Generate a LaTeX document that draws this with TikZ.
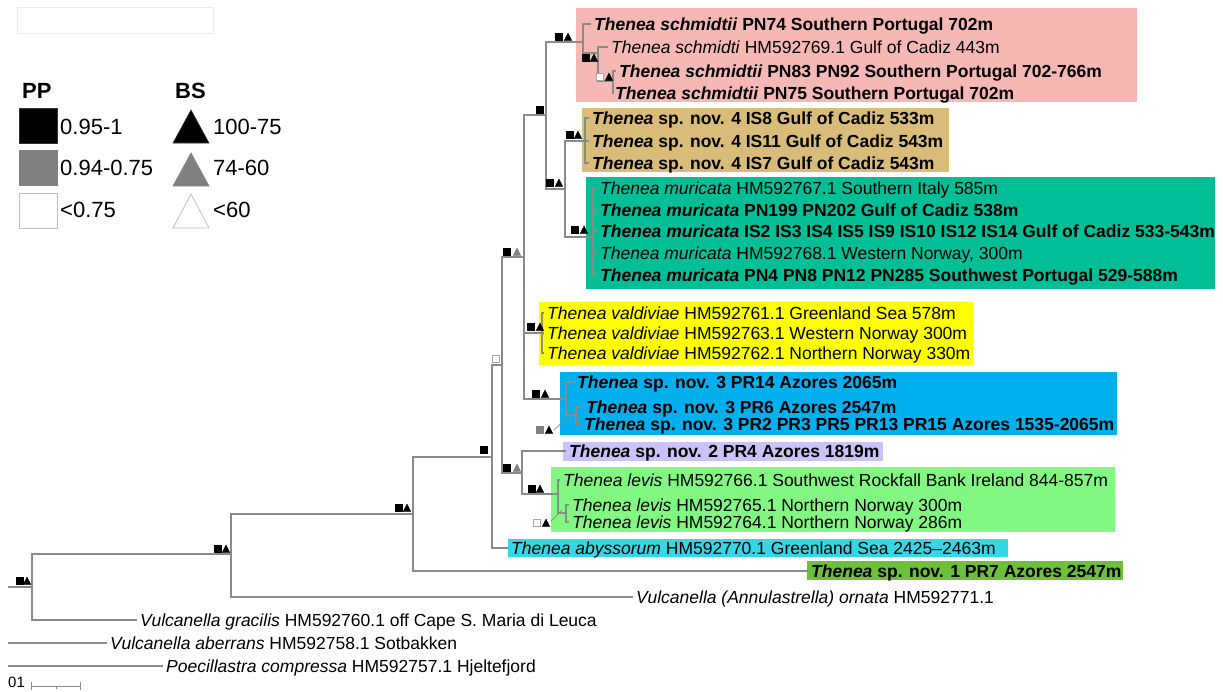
\documentclass[tikz,border=0pt]{standalone}
\usepackage{fontspec}
\setmainfont{Liberation Sans}
\usetikzlibrary{backgrounds}
\definecolor{brgray}{RGB}{138,138,138}
\definecolor{cpink}{RGB}{245,184,180}
\definecolor{ctan}{RGB}{217,188,122}
\definecolor{cteal}{RGB}{0,190,150}
\definecolor{cyell}{RGB}{255,255,0}
\definecolor{cblue}{RGB}{0,176,238}
\definecolor{clav}{RGB}{204,194,250}
\definecolor{clgreen}{RGB}{130,248,130}
\definecolor{ccyan}{RGB}{54,214,228}
\definecolor{cgreen}{RGB}{108,192,60}
\definecolor{symgray}{RGB}{128,128,128}
\newcommand{\suppsq}[2]{\filldraw[#1] (#2) ++(-3.5,-3.5) rectangle ++(7,7);}
\newcommand{\supptri}[2]{\filldraw[#1] (#2) ++(-3.8,3.5) -- ++(7.6,0) -- ++(-3.8,-7.5) -- cycle;}
\begin{document}
\begin{tikzpicture}[x=1pt,y=-1pt,
  br/.style={draw=brgray, line width=1.2pt},
  lf/.style={draw=brgray, line width=1.2pt, shorten >=3pt},
  leaf/.style={anchor=west, inner sep=0pt, text height=12.6pt, text depth=0pt, font=\fontsize{17.5}{21}\selectfont},
  legtxt/.style={anchor=west, inner sep=0pt, text height=15.8pt, text depth=0pt, font=\fontsize{22}{26}\selectfont},
  leghead/.style={anchor=west, inner sep=0pt, text height=16pt, text depth=0pt, font=\fontsize{22}{26}\selectfont\bfseries},
  sblack/.style={fill=black, draw=black, line width=0.3pt},
  sgray/.style={fill=symgray, draw=symgray, line width=0.3pt},
  swhite/.style={fill=white, draw=black!35, line width=0.5pt},
  lgblack/.style={fill=black, draw=black!80, line width=0.6pt},
  lggray/.style={fill=symgray, draw=symgray, line width=0.6pt},
  lgwhite/.style={fill=white, draw=black!25, line width=0.8pt},
  pointer/.style={draw=brgray, line width=0.7pt}]
\useasboundingbox (0,0) rectangle (1223,691);
% leaves
\node[leaf] (s1) at (594,24) {\textbf{\textit{Thenea schmidtii} PN74 Southern Portugal 702m}};
\node[leaf] (s2) at (611,47) {\textit{Thenea schmidti} HM592769.1 Gulf of Cadiz 443m};
\node[leaf] (s3) at (619,71) {\textbf{\textit{Thenea schmidtii} PN83 PN92 Southern Portugal 702-766m}};
\node[leaf] (s4) at (615,93) {\textbf{\textit{Thenea schmidtii} PN75 Southern Portugal 702m}};
\node[leaf] (q1) at (592,118) {\textbf{\textit{Thenea} sp. nov. 4 IS8 Gulf of Cadiz 533m}};
\node[leaf] (q2) at (592,141) {\textbf{\textit{Thenea} sp. nov. 4 IS11 Gulf of Cadiz 543m}};
\node[leaf] (q3) at (592,163) {\textbf{\textit{Thenea} sp. nov. 4 IS7 Gulf of Cadiz 543m}};
\node[leaf] (m1) at (600,188) {\textit{Thenea muricata} HM592767.1 Southern Italy 585m};
\node[leaf] (m2) at (600,210) {\textbf{\textit{Thenea muricata} PN199 PN202 Gulf of Cadiz 538m}};
\node[leaf] (m3) at (600,231) {\textbf{\textit{Thenea muricata} IS2 IS3 IS4 IS5 IS9 IS10 IS12 IS14 Gulf of Cadiz 533-543m}};
\node[leaf] (m4) at (600,253) {\textit{Thenea muricata} HM592768.1 Western Norway, 300m};
\node[leaf] (m5) at (600,275) {\textbf{\textit{Thenea muricata} PN4 PN8 PN12 PN285 Southwest Portugal 529-588m}};
\node[leaf] (v1) at (547,313) {\textit{Thenea valdiviae} HM592761.1 Greenland Sea 578m};
\node[leaf] (v2) at (547,333) {\textit{Thenea valdiviae} HM592763.1 Western Norway 300m};
\node[leaf] (v3) at (547,353) {\textit{Thenea valdiviae} HM592762.1 Northern Norway 330m};
\node[leaf] (t1) at (577,382) {\textbf{\textit{Thenea} sp. nov. 3 PR14 Azores 2065m}};
\node[leaf] (t2) at (586,407) {\textbf{\textit{Thenea} sp. nov. 3 PR6 Azores 2547m}};
\node[leaf] (t3) at (584,424) {\textbf{\textit{Thenea} sp. nov. 3 PR2 PR3 PR5 PR13 PR15 Azores 1535-2065m}};
\node[leaf] (u1) at (569,451) {\textbf{\textit{Thenea} sp. nov. 2 PR4 Azores 1819m}};
\node[leaf] (l1) at (563,480) {\textit{Thenea levis} HM592766.1 Southwest Rockfall Bank Ireland 844-857m};
\node[leaf] (l2) at (572,505) {\textit{Thenea levis} HM592765.1 Northern Norway 300m};
\node[leaf] (l3) at (572,522) {\textit{Thenea levis} HM592764.1 Northern Norway 286m};
\node[leaf] (ab) at (511,548) {\textit{Thenea abyssorum} HM592770.1 Greenland Sea 2425--2463m};
\node[leaf] (sp1) at (811,571) {\textbf{\textit{Thenea} sp. nov. 1 PR7 Azores 2547m}};
\node[leaf] (orn) at (636,597) {\textit{Vulcanella (Annulastrella) ornata} HM592771.1};
\node[leaf] (gra) at (140,620) {\textit{Vulcanella gracilis} HM592760.1 off Cape S. Maria di Leuca};
\node[leaf] (abe) at (110,643) {\textit{Vulcanella aberrans} HM592758.1 Sotbakken};
\node[leaf] (poe) at (166,666) {\textit{Poecillastra compressa} HM592757.1 Hjeltefjord};
% clade boxes behind
\coordinate (tanbot) at (0,172);
\coordinate (bluebot) at (0,435);
\begin{scope}[on background layer]
\fill[cpink] (576,8) rectangle (1137,102);
\fill[ctan] (582,108) rectangle ([xshift=6pt]q2.east |- tanbot);
\fill[cteal] (586,177) rectangle (1215,289);
\fill[cyell] (539,302) rectangle (973,365);
\fill[cblue] (560,372) rectangle ([xshift=2pt]t3.east |- bluebot);
\fill[clav] (563,442) rectangle (883,461);
\fill[clgreen] (551,467) rectangle (1115,532);
\fill[ccyan] (508,539) rectangle (1008,557);
\fill[cgreen] (807,561) rectangle (1123,580);
\end{scope}
% faint empty frame
\draw[black!8, line width=1pt] (17,7) rectangle (213,33);
% internal nodes
\coordinate (stem) at (8,587);
\coordinate (root) at (32,587);
\coordinate (n231) at (231,554);
\coordinate (n413) at (413,514);
\coordinate (n492) at (492,457);
\coordinate (n502) at (502,365);
\coordinate (n524) at (524,257);
\coordinate (n546) at (546,115);
\coordinate (nA) at (583,42);
\coordinate (nB) at (598,53);
\coordinate (nC) at (613,81);
\coordinate (n565) at (565,189);
\coordinate (n4) at (585,141);
\coordinate (nMur) at (593,237);
\coordinate (nVal) at (542,333);
\coordinate (nD) at (566,399);
\coordinate (nE) at (576,415);
\coordinate (n522) at (522,473);
\coordinate (nF) at (558,494);
\coordinate (nG) at (566,513);
\coordinate (ab0) at (8,643);
\coordinate (po0) at (8,666);
% branches
\draw[br] (stem) -- (root);
\draw[br] (root) |- (n231);
\draw[lf] (root) |- (gra.west);
\draw[br] (n231) |- (n413);
\draw[lf] (n231) |- (orn.west);
\draw[br] (n413) |- (n492);
\draw[lf] (n413) |- (sp1.west);
\draw[br] (n492) |- (n502);
\draw[lf] (n492) |- (ab.west);
\draw[br] (n502) |- (n524);
\draw[br] (n502) |- (n522);
\draw[br] (n524) |- (n546);
\draw[br] (n524) |- (nVal);
\draw[br] (n524) |- (nD);
\draw[br] (n546) |- (nA);
\draw[br] (n546) |- (n565);
\draw[lf] (nA) |- (s1.west);
\draw[br] (nA) |- (nB);
\draw[lf] (nB) |- (s2.west);
\draw[br] (nB) |- (nC);
\draw[lf] (nC) |- (s3.west);
\draw[lf] (nC) |- (s4.west);
\draw[br] (n565) |- (n4);
\draw[br] (n565) |- (nMur);
\draw[lf] (n4) |- (q1.west);
\draw[lf] (n4) |- (q2.west);
\draw[lf] (n4) |- (q3.west);
\foreach \m in {m1,m2,m3,m4,m5} {\draw[lf] (nMur) |- (\m.west);}
\foreach \v in {v1,v2,v3} {\draw[lf] (nVal) |- (\v.west);}
\draw[lf] (nD) |- (t1.west);
\draw[br] (nD) |- (nE);
\draw[lf] (nE) |- (t2.west);
\draw[lf] (nE) |- (t3.west);
\draw[lf] (n522) |- (u1.west);
\draw[br] (n522) |- (nF);
\draw[lf] (nF) |- (l1.west);
\draw[br] (nF) |- (nG);
\draw[lf] (nG) |- (l2.west);
\draw[lf] (nG) |- (l3.west);
\draw[lf] (ab0) -- (abe.west);
\draw[lf] (po0) -- (poe.west);
% support values
\suppsq{sblack}{20,581}\supptri{sblack}{27,581}
\suppsq{sblack}{218,549}\supptri{sblack}{226,549}
\suppsq{sblack}{399,508}\supptri{sblack}{407,508}
\suppsq{sblack}{484,450}
\suppsq{swhite}{496,359}
\suppsq{sblack}{507,252}\supptri{sgray}{517,252}
\suppsq{sblack}{540,110}
\suppsq{sblack}{559,37}\supptri{sblack}{568,37}
\suppsq{sblack}{586,58}\supptri{sblack}{594,58}
\suppsq{swhite}{600,77}\supptri{sblack}{609,77}
\suppsq{sblack}{550,183}\supptri{sblack}{559,183}
\suppsq{sblack}{570,135}\supptri{sblack}{578,135}
\suppsq{sblack}{575,230}\supptri{sblack}{584,230}
\suppsq{sblack}{531,327}\supptri{sblack}{540,327}
\suppsq{sblack}{536,394}\supptri{sblack}{545,394}
\suppsq{sgray}{540,430}\supptri{sblack}{549,430}
\suppsq{sblack}{507,468}\supptri{sgray}{517,468}
\suppsq{sblack}{532,489}\supptri{sblack}{540,489}
\suppsq{swhite}{537,523}\supptri{sblack}{546,523}
\coordinate (pE0) at (554,430);
\coordinate (pE1) at (567,418);
\coordinate (pG0) at (551,521);
\coordinate (pG1) at (562,510);
\draw[pointer] (pE0) -- (pE1);
\draw[pointer] (pG0) -- (pG1);
% legend
\node[leghead] (pp) at (22,90) {PP};
\node[leghead] (bs) at (175,90) {BS};
\filldraw[lgblack] (19,108) rectangle (57,143);
\filldraw[lggray] (19,150) rectangle (57,185);
\filldraw[lgwhite] (19,193) rectangle (57,228);
\node[legtxt] (pp1) at (60,127) {0.95-1};
\node[legtxt] (pp2) at (60,168) {0.94-0.75};
\node[legtxt] (pp3) at (60,210) {<0.75};
\filldraw[lgblack] (173,143) -- (209,143) -- (191,110) -- cycle;
\filldraw[lggray] (173,186) -- (209,186) -- (191,153) -- cycle;
\filldraw[lgwhite] (173,228) -- (209,228) -- (191,194) -- cycle;
\node[legtxt] (bs1) at (213,127) {100-75};
\node[legtxt] (bs2) at (213,168) {74-60};
\node[legtxt] (bs3) at (213,210) {<60};
% scale bar
\node[leaf, font=\fontsize{15}{18}\selectfont, text height=10.8pt] (sc) at (8,682) {01};
\coordinate (sb0) at (31,686);
\coordinate (sb1) at (80,686);
\draw[brgray, line width=0.8pt] (sb0) -- (sb1);
\draw[brgray, line width=0.8pt] (31,682) -- (31,690) (80,682) -- (80,690) (56,686) -- (56,689);
\end{tikzpicture}
\end{document}
